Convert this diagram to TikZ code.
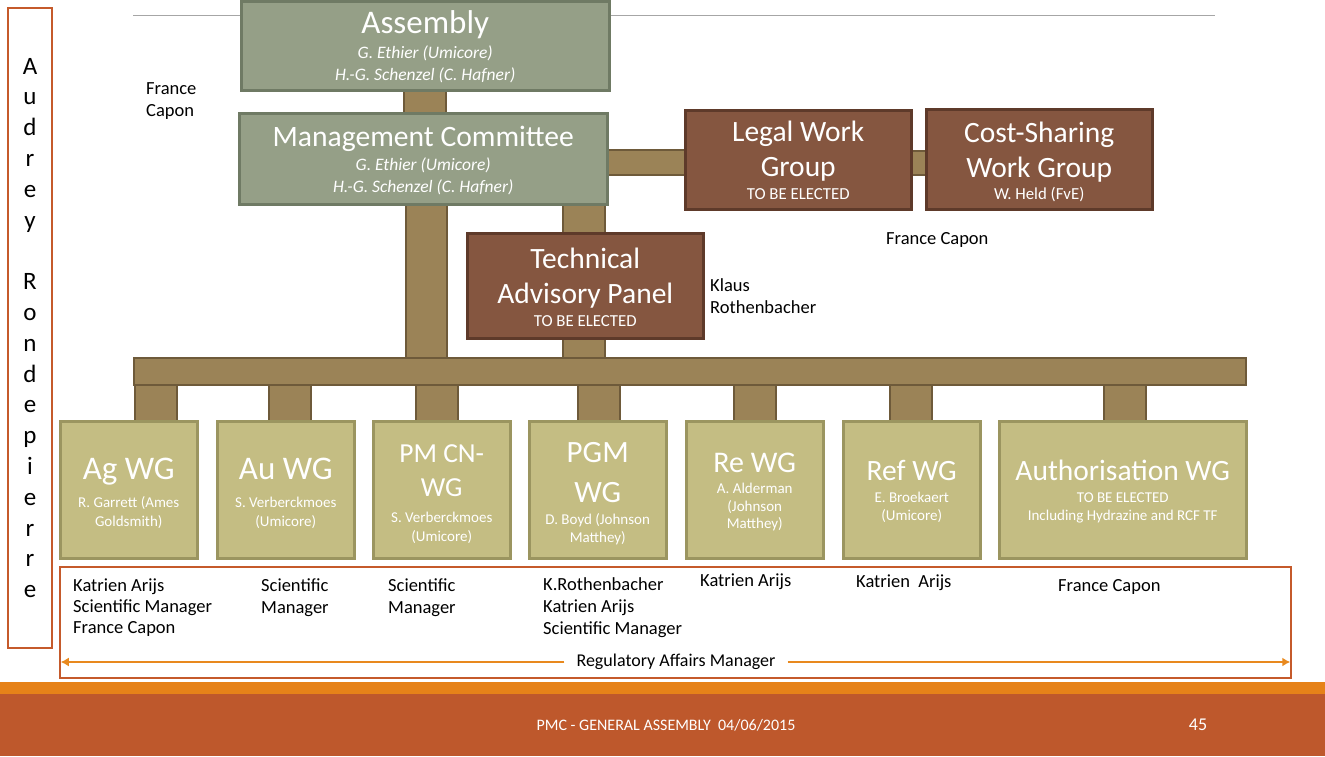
\documentclass[tikz,border=0pt]{standalone}
\usepackage{fontspec}
\setmainfont{Carlito}
\usetikzlibrary{arrows.meta,calc}

\definecolor{verdeF}{HTML}{959F87}
\definecolor{verdeB}{HTML}{6F7A64}
\definecolor{barraF}{HTML}{9B8357}
\definecolor{barraB}{HTML}{6E5A3A}
\definecolor{rossoF}{HTML}{855640}
\definecolor{rossoB}{HTML}{5E3A2A}
\definecolor{wgF}{HTML}{C4BD83}
\definecolor{wgB}{HTML}{9B9560}
\definecolor{arancio}{HTML}{C55A2B}
\definecolor{freccia}{HTML}{E8891E}
\definecolor{piede}{HTML}{BE582C}
\definecolor{striscia}{HTML}{E68219}

% corpo e interlinea fissa
\newcommand{\fs}[2]{\fontsize{#1}{#2}\selectfont\lineskiplimit=-100pt}

\pgfdeclarelayer{sotto}
\pgfsetlayers{sotto,main}

\begin{document}
\begin{tikzpicture}[x=1pt, y=-1pt,
    scatola/.style={draw, line width=2.5pt, text=white, align=center, inner sep=0pt, anchor=north west},
    verde/.style={scatola, draw=verdeB, fill=verdeF, font=\fs{17.5}{22}\itshape},
    rosso/.style={scatola, draw=rossoB, fill=rossoF, font=\fs{16.8}{22.9}},
    wg/.style={scatola, draw=wgB, fill=wgF, minimum width=137, minimum height=137},
    barra/.style={draw=barraB, fill=barraF, line width=2pt},
    nome/.style={align=left, inner sep=0pt, anchor=north west, font=\fs{18.5}{21}},
    cornice/.style={draw=arancio, line width=2.5pt}]

    \useasboundingbox (0,0) rectangle (1325,756);

    % linea in alto
    \draw[gray!70, line width=0.8pt] (133,15) -- (1215,15);

    % Nodi (la riga vuota finale con \\[-x] serve ad abbassare un po' il testo)
    \node[verde, minimum width=368, minimum height=89] (A) at (240,0) {\fs{33}{33}\upshape Assembly\\[3pt] G. Ethier (Umicore)\\ H.-G. Schenzel (C. Hafner)\\[-22.5pt]};
    \node[verde, minimum width=368, minimum height=91] (MC) at (238,112) {\fs{29.6}{29.6}\upshape Management Committee\\[2.1pt] G. Ethier (Umicore)\\ H.-G. Schenzel (C. Hafner)\\[-24pt]};
    \node[rosso, minimum width=226, minimum height=99] (L) at (684,109) {\fs{29.5}{29.5}Legal Work\\[12.1pt] \fs{29.5}{29.5}Group\\ TO BE ELECTED\\[-23.9pt]};
    \node[rosso, minimum width=226, minimum height=100] (CS) at (925,108) {\fs{29.5}{29.5}Cost-Sharing\\[12.1pt] \fs{29.5}{29.5}Work Group\\ W. Held (FvE)\\[-25.9pt]};
    \node[rosso, minimum width=236, minimum height=105] (TAP) at (466,232) {\fs{29.5}{29.5}Technical\\[12.1pt] \fs{29.5}{29.5}Advisory Panel\\ TO BE ELECTED\\[-25.9pt]};

    \node[barra, minimum width=1112, minimum height=27, inner sep=0pt, anchor=north west] (BUS) at (133,357) {};

    % gruppi di lavoro
    \node[wg, font=\fs{15}{19}] (AG) at (59,420) {\fs{33}{33}Ag WG\\[9.2pt] R. Garrett (Ames\\ Goldsmith)\\[-24pt]};
    \node[wg, font=\fs{15}{19}] (AU) at (216,420) {\fs{33}{33}Au WG\\[9.2pt] S. Verberckmoes\\ (Umicore)\\[-24pt]};
    \node[wg, font=\fs{15}{19}] (PMCN) at (372,420) {\fs{27.5}{27.5}PM CN-\\[15pt] \fs{27.5}{27.5}WG\\[7.2pt] S. Verberckmoes\\ (Umicore)\\[-25pt]};
    \node[wg, font=\fs{15}{18}] (PGM) at (528,420) {\fs{31}{31}PGM\\[22pt] \fs{31}{31}WG\\[3.9pt] D. Boyd (Johnson\\ Matthey)\\[-24pt]};
    \node[wg, font=\fs{15}{17.5}] (RE) at (685,420) {\fs{30}{30}Re WG\\[3.7pt] A. Alderman\\ (Johnson\\ Matthey)\\[-19.5pt]};
    \node[wg, font=\fs{15}{18}] (REF) at (842,420) {\fs{29.5}{29.5}Ref WG\\[4.5pt] E. Broekaert\\ (Umicore)\\[-19pt]};
    \node[wg, minimum width=247, font=\fs{15}{18}] (AUTH) at (998,420) {\fs{29.5}{29.5}Authorisation WG\\[4.5pt] TO BE ELECTED\\ Including Hydrazine and RCF TF\\[-19pt]};

    % Archi (barre marroni, sotto le scatole)
    \begin{pgfonlayer}{sotto}
        \draw[barra] ($(A.south)+(-21,-3)$) rectangle ($(A.south |- MC.north)+(21,3)$); % da A a MC
        \draw[barra] ($(MC.south)+(-17,-3)$) rectangle ($(MC.south |- BUS.north)+(24,3)$); % da MC alla barra
        \draw[barra] ($(TAP.north)+(-22,3)$) rectangle ($(TAP.north |- MC.south)+(20,-3)$); % da MC a TAP
        \draw[barra] ($(TAP.south)+(-22,-3)$) rectangle ($(TAP.south |- BUS.north)+(20,3)$); % da TAP alla barra
        \draw[barra] ($(MC.east)+(-3,-8.5)$) rectangle ($(MC.east -| L.west)+(3,16.5)$); % da MC a L
        \draw[barra] ($(L.east)+(-3,-8.5)$) rectangle ($(L.east -| CS.west)+(3,15.5)$); % da L a CS
        \foreach \n/\dx in {AG/27.5,AU/4.5,PMCN/-4.5,PGM/1.5,RE/0.5,REF/-0.5,AUTH/2.5}
            \draw[barra] ($(\n.north)+(\dx-21,3)$) rectangle ($(\n.north |- BUS.south)+(\dx+21,-3)$);
    \end{pgfonlayer}

    % riquadri arancioni
    \node[cornice, minimum width=44, minimum height=640, align=center, inner sep=0pt, font=\fs{25}{30.8}] (AR) at (30,328) {A\\u\\d\\r\\e\\y\\[30.8pt]R\\o\\n\\d\\e\\p\\i\\e\\r\\r\\e};
    \node[cornice, minimum width=1231, minimum height=111] (RUOLI) at (675.5,622.5) {};

    % nomi
    \node[nome, font=\fs{18.5}{22}] (FC1) at (146,82) {France\\ Capon};
    \node[nome] (FC2) at (886,232) {France Capon};
    \node[nome, font=\fs{18.5}{22}] (KR) at (710,278) {Klaus\\ Rothenbacher};
    \node[nome] (R1) at (73,579) {Katrien Arijs\\ Scientific Manager\\ France Capon};
    \node[nome, font=\fs{18.5}{22}] (R2) at (261,578) {Scientific\\ Manager};
    \node[nome, font=\fs{18.5}{22}] (R3) at (388,578) {Scientific\\ Manager};
    \node[nome, font=\fs{18.5}{22}] (R4) at (543,577) {K.Rothenbacher\\ Katrien Arijs\\ Scientific Manager};
    \node[nome] (R5) at (700,574) {Katrien Arijs};
    \node[nome] (R6) at (856,575) {Katrien\ \ Arijs};
    \node[nome] (R7) at (1058,579) {France Capon};

    \node[font=\fs{18}{21}, inner xsep=12pt, inner ysep=0pt] (RAM) at (676,662) {Regulatory Affairs Manager};
    \draw[-{Latex[length=8pt,width=9pt]}, freccia, line width=1.5pt, shorten >=2pt] (RAM.west) -- (RUOLI.west |- RAM.west);
    \draw[-{Latex[length=8pt,width=9pt]}, freccia, line width=1.5pt, shorten >=2pt] (RAM.east) -- (RUOLI.east |- RAM.east);

    % pie' di pagina
    \fill[striscia] (0,682) rectangle (1325,694);
    \fill[piede] (0,694) rectangle (1325,756);
    \node[text=white, font=\fs{16}{18}] (PIE) at (666,725) {PMC - GENERAL ASSEMBLY\ \ 04/06/2015};
    \node[text=white, font=\fs{18}{20}] (PAG) at (1198,725) {45};

\end{tikzpicture}
\end{document}
